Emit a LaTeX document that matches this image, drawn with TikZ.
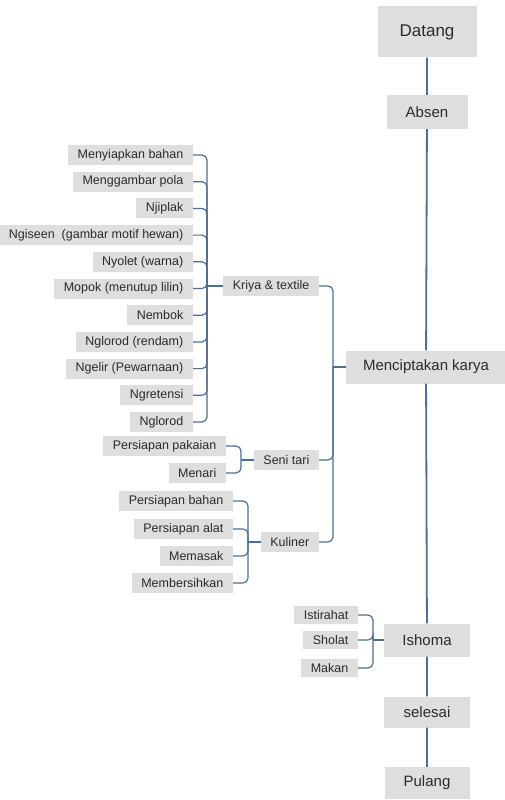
\documentclass[tikz,border=0pt]{standalone}
\usepackage{fontspec}
\setmainfont{Liberation Sans}
\definecolor{boxgray}{HTML}{DEDEDE}
\definecolor{linkblue}{HTML}{4F6E93}
\definecolor{txtgray}{HTML}{2B2B2B}
\tikzset{
  mainbox/.style={fill=boxgray,text=txtgray,inner xsep=16pt,minimum width=86pt,minimum height=33pt,font=\fontsize{15}{17}\selectfont},
  subbox/.style={fill=boxgray,text=txtgray,inner xsep=9.5pt,inner ysep=0pt,minimum height=20pt,anchor=east,font=\fontsize{12.5}{14}\selectfont},
  link/.style={draw=linkblue,line width=1.2pt,rounded corners=5pt}
}
\begin{document}
\begin{tikzpicture}[x=1pt,y=-1pt]
\useasboundingbox (0,0) rectangle (505,800);
% tahap utama
\node[mainbox,minimum width=99pt,minimum height=51pt,font=\fontsize{17}{19}\selectfont] (D) at (427,32) {Datang};
\node[mainbox,minimum width=81pt,minimum height=34pt] (A) at (427,112) {Absen};
\node[mainbox,minimum width=160pt] (M) at (426,367) {Menciptakan karya};
\node[mainbox] (I) at (427,640) {Ishoma};
\node[mainbox,minimum height=31pt] (S) at (427,712) {selesai};
\node[mainbox,minimum width=85pt,minimum height=32pt] (P) at (427,783) {Pulang};
\draw[link,line width=1.8pt] (D)--(A)--(M)--(I)--(S)--(P);
% cabang karya
\path
(319,286) node[subbox] (KT) {Kriya \& textile}
(319,460) node[subbox] (ST) {Seni tari}
(319,542) node[subbox] (KU) {Kuliner}
(333,367) coordinate (mb);
\draw[link] (M.west)--(mb);
\foreach \x in {KT,ST,KU} \draw[link] (\x.east) -| (mb);
% kriya & textile
\foreach \t [count=\i] in {Menyiapkan bahan,Menggambar pola,Njiplak,Ngiseen\ \ (gambar motif hewan),Nyolet (warna),Mopok (menutup lilin),Nembok,Nglorod (rendam),Ngelir (Pewarnaan),Ngretensi,Nglorod}
  \node[subbox] (k\i) at (193,{155+26.7*(\i-1)}) {\t};
\coordinate (kb) at (207,286);
\draw[link] (KT.west)--(kb);
\foreach \i in {1,...,11} \draw[link] (k\i.east) -| (kb);
% seni tari
\foreach \t/\y [count=\i] in {Persiapan pakaian/446,Menari/473}
  \node[subbox] (s\i) at (226,\y) {\t};
\coordinate (sb) at (241,460);
\draw[link] (ST.west)--(sb);
\foreach \i in {1,2} \draw[link] (s\i.east) -| (sb);
% kuliner
\foreach \t/\y [count=\i] in {Persiapan bahan/501,Persiapan alat/529,Memasak/556,Membersihkan/583}
  \node[subbox] (u\i) at (233,\y) {\t};
\coordinate (ub) at (248,542);
\draw[link] (KU.west)--(ub);
\foreach \i in {1,...,4} \draw[link] (u\i.east) -| (ub);
% ishoma
\foreach \t/\y [count=\i] in {Istirahat/615,Sholat/640,Makan/668}
  \node[subbox,minimum height=18pt] (i\i) at (358,\y) {\t};
\coordinate (ib) at (373,640);
\draw[link] (I.west)--(ib);
\foreach \i in {1,2,3} \draw[link] (i\i.east) -| (ib);
\end{tikzpicture}
\end{document}
